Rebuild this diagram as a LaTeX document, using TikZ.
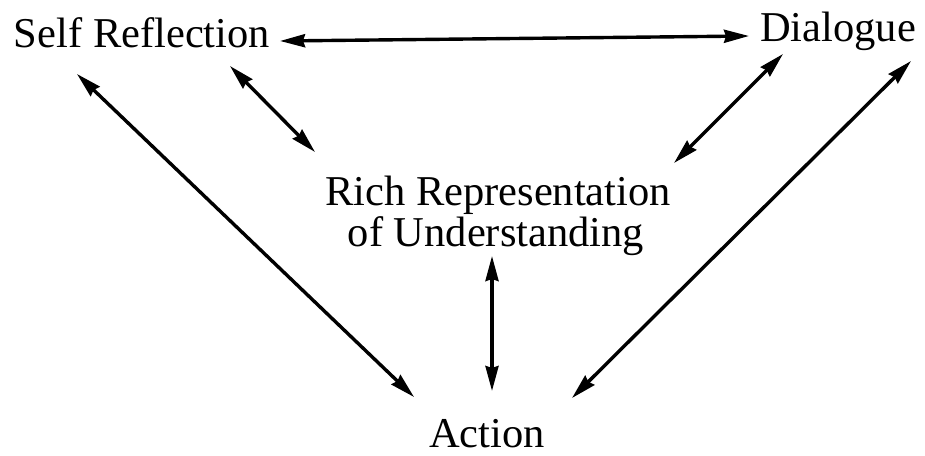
\documentclass[tikz,border=0pt]{standalone}
\usepackage{fontspec}
\setmainfont{Liberation Serif}
\usetikzlibrary{arrows.meta}
\begin{document}
\begin{tikzpicture}[x=1pt,y=-1pt,
  lbl/.style={inner sep=0pt,anchor=base,font=\fontsize{42.5}{36}\selectfont},
  tip/.style={Stealth[length=25pt,width=13pt,inset=2pt]},
  link/.style={line width=3.4pt,{Stealth[length=25pt,width=13pt,inset=2pt]}-{Stealth[length=25pt,width=13pt,inset=2pt]}}]
\useasboundingbox[fill=white] (0,0) rectangle (925,455);
\node[lbl] (self) at (142,47) {Self Reflection};
\node[lbl] (dial) at (838,41) {Dialogue};
\node[lbl] (rich) at (498,205) {Rich Representation};
\node[lbl] (under) at (496,246) {of Understanding};
\node[lbl] (act) at (487,447) {Action};
\coordinate (h1) at (280,41);
\coordinate (h2) at (749,36);
\coordinate (l1) at (77,74);
\coordinate (l2) at (414,397);
\coordinate (s1) at (230,66);
\coordinate (s2) at (315,152);
\coordinate (d1) at (783,54);
\coordinate (d2) at (674,163);
\coordinate (r1) at (911,61);
\coordinate (r2) at (572,398);
\coordinate (v1) at (492,256);
\coordinate (v2) at (492,391);
\draw[link] (h1) -- (h2);
\draw[link] (l1) -- (l2);
\draw[link] (s1) -- (s2);
\draw[link] (d1) -- (d2);
\draw[link] (r1) -- (r2);
\draw[link] (v1) -- (v2);
\end{tikzpicture}
\end{document}
